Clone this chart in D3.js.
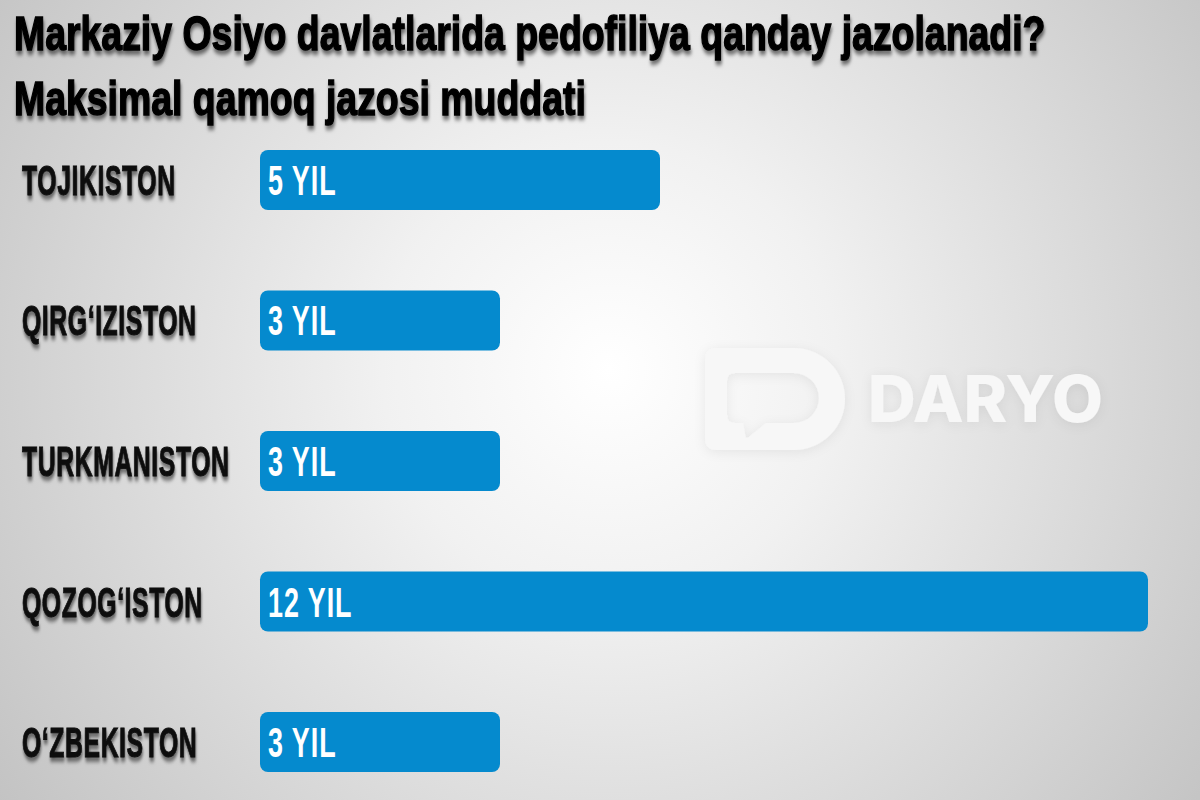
<!DOCTYPE html>
<html>
<head>
<meta charset="utf-8">
<script src="https://cdn.jsdelivr.net/npm/d3@7"></script>
<style>
  html, body { margin: 0; padding: 0; background: #ddd; }
  svg { display: block; }
</style>
</head>
<body>
<svg id="chart" width="1200" height="800"></svg>
<script>
const titleLines = [
  "Markaziy Osiyo davlatlarida pedofiliya qanday jazolanadi?",
  "Maksimal qamoq jazosi muddati",
];
const countries = ["TOJIKISTON", "QIRG‘IZISTON", "TURKMANISTON", "QOZOG‘ISTON", "O‘ZBEKISTON"];
const years = [5, 3, 3, 12, 3];
const unit = "YIL";
const brand = "DARYO";

const width = 1200;
const height = 800;
const barColor = "#058ace";
// the longest bar runs off the scale in the original, so the domain top is clamped
const xMax = 11.1;

const svg = d3.select("#chart");
const defs = svg.append("defs");

const bg = defs.append("radialGradient")
  .attr("id", "bg")
  .attr("gradientUnits", "userSpaceOnUse")
  .attr("cx", 610).attr("cy", 370).attr("r", 760);
bg.append("stop").attr("offset", "0%").attr("stop-color", "#ffffff");
bg.append("stop").attr("offset", "30%").attr("stop-color", "#f1f1f1");
bg.append("stop").attr("offset", "100%").attr("stop-color", "#c2c2c2");

const shadow = defs.append("filter")
  .attr("id", "shadow")
  .attr("x", "-10%").attr("y", "-30%").attr("width", "120%").attr("height", "170%");
shadow.append("feDropShadow")
  .attr("dx", 1).attr("dy", 4).attr("stdDeviation", 2.2)
  .attr("flood-color", "#000").attr("flood-opacity", 0.55);

const soft = defs.append("filter")
  .attr("id", "soft")
  .attr("x", "-20%").attr("y", "-30%").attr("width", "140%").attr("height", "160%");
soft.append("feDropShadow")
  .attr("dx", 0).attr("dy", 2).attr("stdDeviation", 6)
  .attr("flood-color", "#000").attr("flood-opacity", 0.07);

svg.append("rect")
  .attr("width", width).attr("height", height)
  .attr("fill", "url(#bg)");

// watermark
const mark = svg.append("g").attr("filter", "url(#soft)").attr("fill", "#f7f7f7");
mark.append("path")
  .attr("fill-rule", "evenodd")
  .attr("d", [
    "M717,348 H794 A51,51 0 0 1 794,450 H717 Q705,450 705,438 V360 Q705,348 717,348 Z",
    "M735,373 H794 A25,25 0 0 1 794,423 H766 L749,437 Q745,440 745,434 L743,423 H735 Q727,423 727,415 V381 Q727,373 735,373 Z",
  ].join(" "));
mark.append("text")
  .attr("x", 868).attr("y", 422)
  .attr("textLength", 235).attr("lengthAdjust", "spacingAndGlyphs")
  .style("font-family", "Inter, 'Open Sans', sans-serif")
  .style("font-weight", 800)
  .style("font-size", "64px")
  .text(brand);

// title
svg.append("g")
  .selectAll("text")
  .data(titleLines)
  .join("text")
  .attr("transform", (d, i) => `translate(14, ${50 + i * 65}) scale(0.788, 1)`)
  .attr("filter", "url(#shadow)")
  .style("font-family", "'Liberation Sans', Arial, sans-serif")
  .style("font-weight", 700)
  .style("font-size", "47.5px")
  .style("fill", "#050505")
  .style("stroke", "#050505")
  .style("stroke-width", 1.4)
  .text((d) => d);

const y = d3.scaleBand()
  .domain(countries)
  .range([150, 772])
  .paddingInner(0.573)
  .paddingOuter(0)
  .align(0);

const x = d3.scaleLinear()
  .domain([0, xMax])
  .range([260, 1148])
  .clamp(true);

const rows = svg.append("g")
  .selectAll("g")
  .data(countries.map((c, i) => ({ country: c, value: years[i] })))
  .join("g");

rows.append("rect")
  .attr("x", x(0))
  .attr("y", (d) => y(d.country))
  .attr("width", (d) => x(d.value) - x(0))
  .attr("height", y.bandwidth())
  .attr("rx", 8)
  .attr("fill", barColor);

rows.append("text")
  .attr("transform", (d) => `translate(22, ${y(d.country) + y.bandwidth() / 2 + 15}) scale(0.59, 1)`)
  .attr("filter", "url(#shadow)")
  .style("font-family", "'Liberation Sans', Arial, sans-serif")
  .style("font-weight", 700)
  .style("font-size", "42px")
  .style("fill", "#0d0d0d")
  .style("stroke", "#0d0d0d")
  .style("stroke-width", 1)
  .style("letter-spacing", "1px")
  .text((d) => d.country);

rows.append("text")
  .attr("transform", (d) => `translate(${x(0) + 8}, ${y(d.country) + y.bandwidth() / 2 + 15}) scale(0.64, 1)`)
  .style("font-family", "'Liberation Sans', Arial, sans-serif")
  .style("font-weight", 700)
  .style("font-size", "42px")
  .style("fill", "#ffffff")
  .style("letter-spacing", "1.5px")
  .text((d) => `${d.value} ${unit}`);
</script>
</body>
</html>
